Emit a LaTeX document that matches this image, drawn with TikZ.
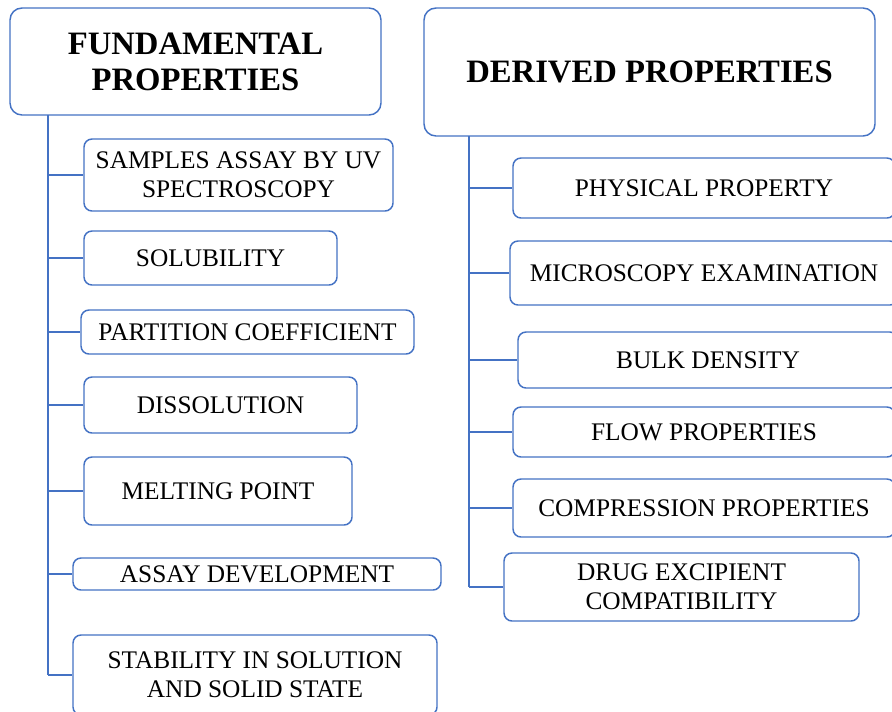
\documentclass[tikz,border=0pt]{standalone}
\usepackage{fontspec}
\setmainfont{Liberation Serif}
\definecolor{boxblue}{HTML}{4472C4}
\tikzset{
  sz/.style 2 args={minimum width=#1*0.75pt, minimum height=#2*0.75pt},
  link/.style={draw=boxblue, line width=1.1pt}
}
\begin{document}
\begin{tikzpicture}[x=0.75pt, y=-0.75pt]
        \useasboundingbox[fill=white] (0,0) rectangle (892,711);

        % headings
        \begin{scope}[every node/.style={draw=boxblue, line width=1.1pt, rounded corners=9pt,
            inner sep=0pt, align=center, font=\fontsize{24.5}{27}\selectfont\bfseries}]
          \node[sz={371}{107}] (fund) at (195.5,61.5) {FUNDAMENTAL\\PROPERTIES};
          \node[sz={451}{128}] (der)  at (649.5,72)   {DERIVED PROPERTIES};
        \end{scope}

        \begin{scope}[every node/.style={draw=boxblue, line width=1.1pt, rounded corners=6pt,
            inner sep=0pt, align=center, font=\fontsize{19}{22}\selectfont}]
          \node[sz={309}{72}] (f1) at (238.5,175) {SAMPLES ASSAY BY UV\\SPECTROSCOPY};
          \node[sz={253}{54}] (f2) at (210.5,258) {SOLUBILITY};
          \node[sz={333}{44}] (f3) at (247.5,332) {PARTITION COEFFICIENT};
          \node[sz={273}{56}] (f4) at (220.5,405) {DISSOLUTION};
          \node[sz={268}{68}] (f5) at (218,491)   {MELTING POINT};
          \node[sz={368}{32}] (f6) at (257,574)   {ASSAY DEVELOPMENT};
          \node[sz={364}{80}] (f7) at (255,675)   {STABILITY IN SOLUTION\\AND SOLID STATE};

          \node[sz={382}{60}] (d1) at (704,188)   {PHYSICAL PROPERTY};
          \node[sz={388}{64}] (d2) at (704,273)   {MICROSCOPY EXAMINATION};
          \node[sz={380}{56}] (d3) at (708,360)   {BULK DENSITY};
          \node[sz={382}{50}] (d4) at (704,432)   {FLOW PROPERTIES};
          \node[sz={382}{58}] (d5) at (704,508)   {COMPRESSION PROPERTIES};
          \node[sz={355}{68}] (d6) at (681.5,587) {DRUG EXCIPIENT\\COMPATIBILITY};
        \end{scope}

        \coordinate (ftop) at (48,115);
        \coordinate (dtop) at (469,136);

        % trunks and branches
        \path[link] (ftop) -- (ftop |- f7.west);
        \path[link] (dtop) -- (dtop |- d6.west);
        \foreach \n in {f1,f2,f3,f4,f5,f6,f7}
          \path[link] (ftop |- \n.west) -- (\n.west);
        \foreach \n in {d1,d2,d3,d4,d5,d6}
          \path[link] (dtop |- \n.west) -- (\n.west);

      \end{tikzpicture}
\end{document}
